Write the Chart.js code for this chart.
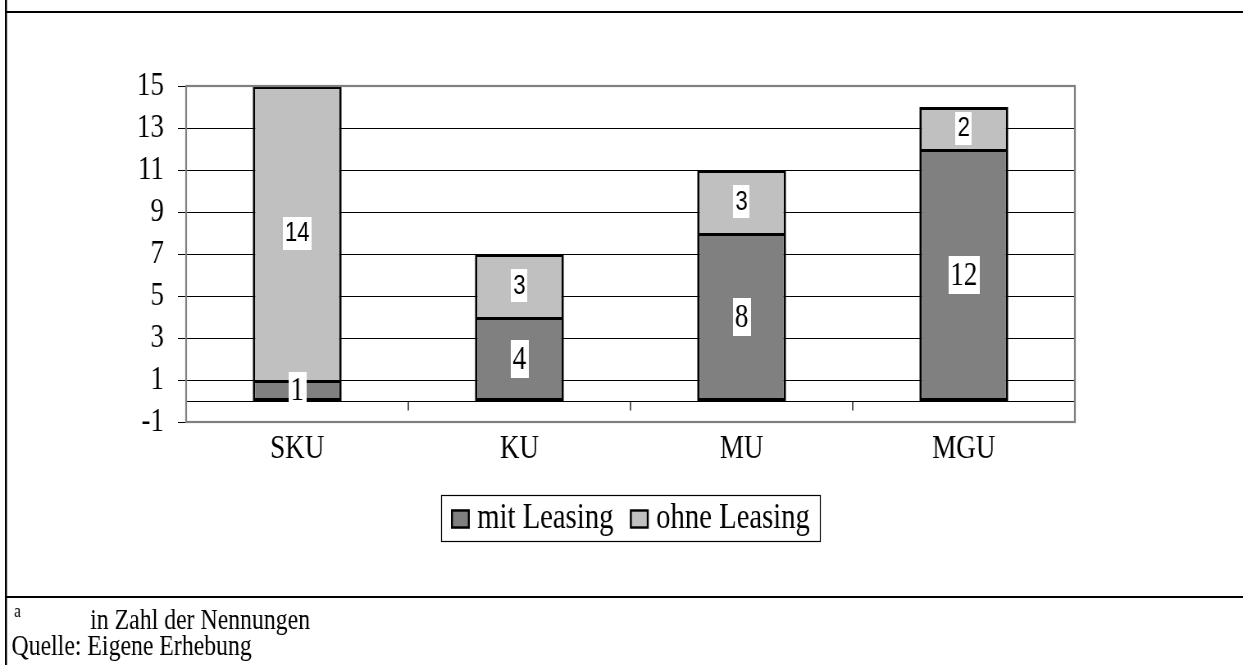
<!DOCTYPE html>
<html>
<head>
<meta charset="utf-8">
<script src="https://cdn.jsdelivr.net/npm/chart.js@4.4.1/dist/chart.umd.min.js"></script>
<style>
  html, body { margin: 0; padding: 0; background: #ffffff; overflow: hidden; }
  /* the figure is laid out wide and then set in narrow type proportions */
  #wrap { width: 1516px; height: 665px; transform: scaleX(0.8199); transform-origin: 0 0; }
  canvas { display: block; }
</style>
</head>
<body>
<div id="wrap"><canvas id="chart" width="1516" height="665"></canvas></div>
<script>
// Unternehmensgrößenklassen
const categories = ['SKU', 'KU', 'MU', 'MGU'];
// Nennungen je Klasse
const mitLeasing = [1, 4, 8, 12];
const ohneLeasing = [14, 3, 3, 2];
const seriesNames = ['mit Leasing', 'ohne Leasing'];
const yTickValues = [-1, 1, 3, 5, 7, 9, 11, 13, 15];
const footnoteMark = 'a';
const footnoteText = 'in Zahl der Nennungen';
const sourceText = 'Quelle: Eigene Erhebung';

const SERIF = '"Liberation Serif", "Times New Roman", serif';
const SANS = '"Liberation Sans", Arial, sans-serif';
const DARK = '#808080';
const LIGHT = '#c0c0c0';

// page frame and footnotes
const framePlugin = {
  id: 'frame',
  beforeDraw(chart) {
    const ctx = chart.ctx;
    ctx.save();
    ctx.fillStyle = '#ffffff';
    ctx.fillRect(0, 0, chart.width, chart.height);
    ctx.fillStyle = '#000000';
    ctx.fillRect(6, 0, 2.5, chart.height);      // left border
    ctx.fillRect(6, 11, chart.width - 6, 2);    // top rule
    ctx.fillRect(6, 596, chart.width - 6, 2);   // rule above notes
    ctx.textBaseline = 'alphabetic';
    ctx.textAlign = 'left';
    ctx.font = '19px ' + SERIF;
    ctx.fillText(footnoteMark, 17, 617);
    ctx.font = '29px ' + SERIF;
    ctx.fillText(footnoteText, 110, 629);
    ctx.fillText(sourceText, 14, 655);
    ctx.restore();
  }
};

// zero line with category separators, and the grey plot border
const plotPlugin = {
  id: 'plotDecor',
  beforeDatasetsDraw(chart) {
    const { ctx, chartArea: a, scales } = chart;
    const y0 = Math.round(scales.y.getPixelForValue(0)) + 0.5;
    ctx.save();
    ctx.strokeStyle = '#000000';
    ctx.lineWidth = 1;
    ctx.beginPath();
    ctx.moveTo(a.left, y0);
    ctx.lineTo(a.right, y0);
    ctx.stroke();
    ctx.lineWidth = 1.3;
    ctx.beginPath();
    const n = categories.length;
    for (let i = 0; i <= n; i++) {
      const x = a.left + (a.right - a.left) * i / n;
      ctx.moveTo(x, y0);
      ctx.lineTo(x, y0 + 9);
    }
    ctx.stroke();
    ctx.restore();
  },
  afterDraw(chart) {
    const { ctx, chartArea: a } = chart;
    ctx.save();
    ctx.strokeStyle = '#808080';
    ctx.lineWidth = 2.2;
    ctx.strokeRect(a.left, a.top, a.right - a.left, a.bottom - a.top);
    ctx.restore();
  }
};

// value labels on white boxes at each segment centre
const valueLabelPlugin = {
  id: 'valueLabels',
  afterDatasetsDraw(chart) {
    const ctx = chart.ctx;
    ctx.save();
    chart.data.datasets.forEach((ds, di) => {
      const meta = chart.getDatasetMeta(di);
      const font = di === 0 ? '33px ' + SERIF : '27px ' + SANS;
      const boxH = di === 0 ? 38 : 33;
      ctx.font = font;
      meta.data.forEach((bar, i) => {
        const txt = String(ds.data[i]);
        const cx = bar.x;
        const cy = (bar.y + bar.base) / 2;
        const w = ctx.measureText(txt).width + 5;
        ctx.fillStyle = '#ffffff';
        ctx.fillRect(Math.round(cx - w / 2), Math.round(cy - boxH / 2), Math.round(w), boxH);
        ctx.fillStyle = '#000000';
        ctx.textAlign = 'center';
        ctx.textBaseline = 'middle';
        ctx.fillText(txt, cx, cy + 1);
      });
    });
    ctx.restore();
  }
};

// boxed legend centred under the plot
const legendPlugin = {
  id: 'boxLegend',
  afterDraw(chart) {
    const { ctx, chartArea: a } = chart;
    const colors = chart.data.datasets.map(d => d.backgroundColor);
    ctx.save();
    ctx.font = '35px ' + SERIF;
    const swW = 23, swH = 19, gap = 9, itemGap = 20, pad = 12;
    const widths = seriesNames.map(t => ctx.measureText(t).width);
    const total = pad + swW + gap + widths[0] + itemGap + swW + gap + widths[1] + pad;
    const left = Math.round((a.left + a.right) / 2 - total / 2);
    const top = 495, h = 46;
    ctx.strokeStyle = '#000000';
    ctx.lineWidth = 1.2;
    ctx.strokeRect(left + 0.5, top + 0.5, Math.round(total), h);
    const cy = top + h / 2;
    let x = left + pad;
    seriesNames.forEach((t, i) => {
      ctx.fillStyle = colors[i];
      ctx.fillRect(x, cy - swH / 2 + 1, swW, swH);
      ctx.strokeStyle = '#000000';
      ctx.lineWidth = 2.4;
      ctx.strokeRect(x + 1.2, cy - swH / 2 + 2, swW - 2.4, swH - 2);
      x += swW + gap;
      ctx.fillStyle = '#000000';
      ctx.textAlign = 'left';
      ctx.textBaseline = 'middle';
      ctx.fillText(t, x, cy + 1);
      x += widths[i] + itemGap;
    });
    ctx.restore();
  }
};

new Chart(document.getElementById('chart'), {
  type: 'bar',
  data: {
    labels: categories,
    datasets: [
      {
        label: seriesNames[0],
        data: mitLeasing,
        backgroundColor: DARK,
        borderColor: '#000000',
        borderWidth: 3,
        borderSkipped: false
      },
      {
        label: seriesNames[1],
        data: ohneLeasing,
        backgroundColor: LIGHT,
        borderColor: '#000000',
        borderWidth: 3,
        borderSkipped: 'start'
      }
    ]
  },
  options: {
    responsive: false,
    animation: false,
    devicePixelRatio: 1,
    layout: { padding: { left: 0, top: 86, right: 205, bottom: 203 } },
    datasets: { bar: { categoryPercentage: 1.0, barPercentage: 0.4 } },
    plugins: {
      legend: { display: false },
      tooltip: { enabled: false },
      title: { display: false }
    },
    scales: {
      x: {
        stacked: true,
        grid: { display: false, drawTicks: false },
        border: { display: false },
        ticks: { color: '#000000', font: { family: SERIF, size: 33 }, padding: 8, autoSkip: false, maxRotation: 0 },
        afterFit(scale) { scale.height = 40; }
      },
      y: {
        stacked: true,
        min: -1,
        max: 15,
        afterBuildTicks(scale) { scale.ticks = yTickValues.map(v => ({ value: v })); },
        grid: {
          color: c => (c.tick && c.tick.value > -1 && c.tick.value < 15) ? '#000000' : 'rgba(0,0,0,0)',
          lineWidth: 1,
          drawTicks: true,
          tickLength: 10,
          tickColor: '#000000'
        },
        border: { display: false },
        ticks: { color: '#000000', font: { family: SERIF, size: 33 }, padding: 17, autoSkip: false },
        afterFit(scale) { scale.width = 227; }
      }
    }
  },
  plugins: [framePlugin, plotPlugin, valueLabelPlugin, legendPlugin]
});
</script>
</body>
</html>
